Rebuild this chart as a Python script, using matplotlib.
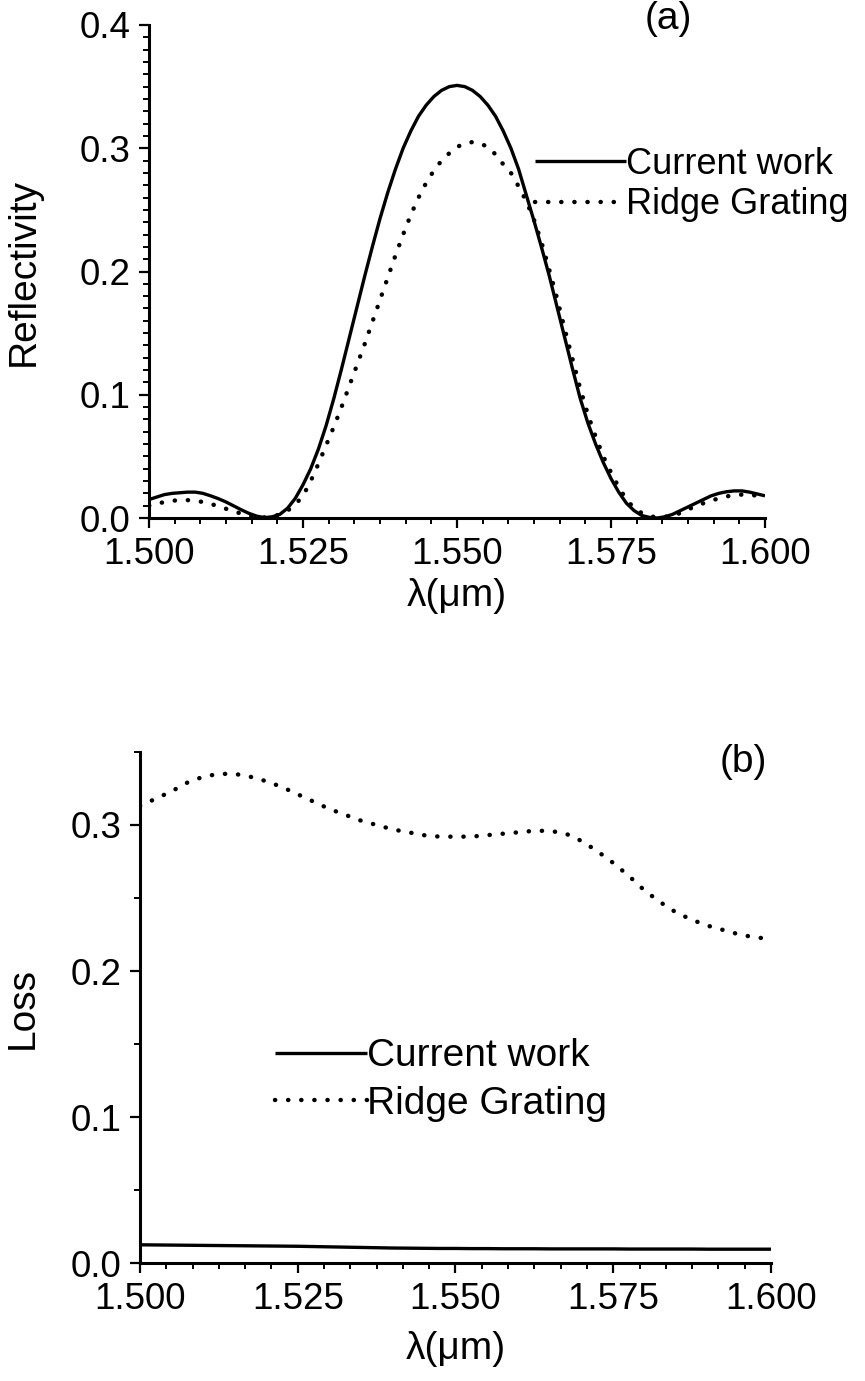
import matplotlib
matplotlib.use("Agg")
import matplotlib.pyplot as plt
from matplotlib.ticker import MultipleLocator, AutoMinorLocator, FormatStrFormatter

plt.rcParams["font.family"] = ["Liberation Sans", "DejaVu Sans"]

# (a) wavelength grid (um), read every 0.00125
wl_a = [
    1.50000, 1.50125, 1.50250, 1.50375, 1.50500, 1.50625, 1.50750, 1.50875, 1.51000, 1.51125,
    1.51250, 1.51375, 1.51500, 1.51625, 1.51750, 1.51875, 1.52000, 1.52125, 1.52250, 1.52375,
    1.52500, 1.52625, 1.52750, 1.52875, 1.53000, 1.53125, 1.53250, 1.53375, 1.53500, 1.53625,
    1.53750, 1.53875, 1.54000, 1.54125, 1.54250, 1.54375, 1.54500, 1.54625, 1.54750, 1.54875,
    1.55000, 1.55125, 1.55250, 1.55375, 1.55500, 1.55625, 1.55750, 1.55875, 1.56000, 1.56125,
    1.56250, 1.56375, 1.56500, 1.56625, 1.56750, 1.56875, 1.57000, 1.57125, 1.57250, 1.57375,
    1.57500, 1.57625, 1.57750, 1.57875, 1.58000, 1.58125, 1.58250, 1.58375, 1.58500, 1.58625,
    1.58750, 1.58875, 1.59000, 1.59125, 1.59250, 1.59375, 1.59500, 1.59625, 1.59750, 1.59875,
    1.60000,
]
refl_current = [
    0.015, 0.017, 0.019, 0.020, 0.0205, 0.021, 0.021, 0.020, 0.018, 0.0157,
    0.013, 0.0098, 0.0066, 0.0037, 0.0015, 0.0003, 0.001, 0.003, 0.008, 0.016,
    0.027, 0.040, 0.056, 0.075, 0.097, 0.121, 0.146, 0.171, 0.196, 0.220,
    0.243, 0.264, 0.283, 0.300, 0.314, 0.326, 0.335, 0.342, 0.347, 0.350,
    0.351, 0.350, 0.347, 0.342, 0.335, 0.326, 0.314, 0.300, 0.283, 0.262,
    0.241, 0.219, 0.196, 0.171, 0.146, 0.121, 0.097, 0.077, 0.060, 0.045,
    0.032, 0.021, 0.012, 0.006, 0.002, 0.0005, 0.000, 0.001, 0.003, 0.006,
    0.009, 0.012, 0.015, 0.018, 0.020, 0.0213, 0.022, 0.022, 0.021, 0.0195,
    0.018,
]
refl_ridge = [
    0.010, 0.0115, 0.013, 0.014, 0.0145, 0.0145, 0.014, 0.013, 0.0115, 0.0095,
    0.0075, 0.0055, 0.0035, 0.002, 0.001, 0.0005, 0.001, 0.003, 0.006, 0.011,
    0.018, 0.030, 0.044, 0.059, 0.074, 0.090, 0.107, 0.124, 0.141, 0.159,
    0.177, 0.195, 0.213, 0.230, 0.246, 0.260, 0.272, 0.282, 0.290, 0.296,
    0.301, 0.304, 0.305, 0.304, 0.301, 0.295, 0.287, 0.280, 0.269, 0.257,
    0.242, 0.223, 0.201, 0.178, 0.153, 0.129, 0.105, 0.084, 0.066, 0.050,
    0.037, 0.025, 0.015, 0.008, 0.004, 0.0015, 0.0005, 0.001, 0.002, 0.004,
    0.007, 0.0095, 0.012, 0.014, 0.016, 0.0175, 0.0185, 0.019, 0.019, 0.018,
    0.017,
]

# (b) wavelength grid (um), read every 0.0025
wl_b = [
    1.5000, 1.5025, 1.5050, 1.5075, 1.5100, 1.5125, 1.5150, 1.5175, 1.5200, 1.5225,
    1.5250, 1.5275, 1.5300, 1.5325, 1.5350, 1.5375, 1.5400, 1.5425, 1.5450, 1.5475,
    1.5500, 1.5525, 1.5550, 1.5575, 1.5600, 1.5625, 1.5650, 1.5675, 1.5700, 1.5725,
    1.5750, 1.5775, 1.5800, 1.5825, 1.5850, 1.5875, 1.5900, 1.5925, 1.5950, 1.5975,
    1.6000,
]
loss_ridge = [
    0.313, 0.318, 0.323, 0.329, 0.333, 0.335, 0.335, 0.333, 0.330, 0.326,
    0.321, 0.316, 0.311, 0.307, 0.303, 0.300, 0.297, 0.295, 0.293, 0.292,
    0.292, 0.292, 0.293, 0.294, 0.295, 0.296, 0.296, 0.294, 0.289, 0.282,
    0.274, 0.265, 0.255, 0.247, 0.240, 0.235, 0.231, 0.228, 0.225, 0.223,
    0.222,
]
loss_current = [
    0.0125, 0.0124, 0.0123, 0.0122, 0.0121, 0.0120, 0.0119, 0.0118, 0.0117, 0.0116,
    0.0115, 0.0113, 0.0111, 0.0109, 0.0107, 0.0105, 0.0103, 0.0102, 0.0101, 0.0100,
    0.0100, 0.0099, 0.0099, 0.0098, 0.0098, 0.0098, 0.0097, 0.0097, 0.0097, 0.0097,
    0.0097, 0.0096, 0.0096, 0.0096, 0.0096, 0.0096, 0.0095, 0.0095, 0.0095, 0.0095,
    0.0095,
]

labels = ["Current work", "Ridge Grating"]
x_ticks = [1.500, 1.525, 1.550, 1.575, 1.600]

SOLID = dict(color="black", lw=2.4, solid_capstyle="butt", solid_joinstyle="round")
DOTS = dict(color="black", lw=3.2, linestyle=(0, (0.05, 2.9)), dash_capstyle="round")


def style_axes(ax, ymax, ymajor, yminor):
    ax.set_xlim(1.5, 1.6)
    ax.set_ylim(0, ymax)
    ax.set_xticks(x_ticks)
    ax.xaxis.set_major_formatter(FormatStrFormatter("%.3f"))
    ax.xaxis.set_minor_locator(AutoMinorLocator(6))
    ax.yaxis.set_major_locator(MultipleLocator(ymajor))
    ax.yaxis.set_minor_locator(MultipleLocator(yminor))
    ax.yaxis.set_major_formatter(FormatStrFormatter("%.1f"))
    for side in ("top", "right"):
        ax.spines[side].set_visible(False)
    for side in ("left", "bottom"):
        ax.spines[side].set_linewidth(2.2)
    ax.tick_params(which="major", direction="out", length=7.5, width=1.6,
                   labelsize=26.5, pad=6)
    ax.tick_params(which="minor", direction="out", length=4.5, width=1.4)


fig = plt.figure(figsize=(8.65, 13.81), dpi=100)

# panel (a)
ax1 = fig.add_axes([0.1723, 0.6249, 0.7121, 0.3570])
ax1.plot(wl_a, refl_current, label=labels[0], **SOLID)
ax1.plot(wl_a, refl_ridge, label=labels[1], **DOTS)
style_axes(ax1, 0.4, 0.1, 0.01)
ax1.set_ylabel("Reflectivity", fontsize=28)
ax1.yaxis.set_label_coords(-0.174, 0.5)
ax1.set_xlabel("λ(μm)", fontsize=28)
ax1.xaxis.set_label_coords(0.5, -0.122)
ax1.text(0.843, 1.012, "(a)", transform=ax1.transAxes, fontsize=28,
         ha="center", va="center")
ax1.legend(loc="upper left", bbox_to_anchor=(0.627, 0.753), frameon=False,
           fontsize=26, handlelength=2.5, handletextpad=0.0, borderpad=0,
           borderaxespad=0, labelspacing=0.15)

# panel (b)
ax2 = fig.add_axes([0.1618, 0.0854, 0.7295, 0.3701])
ax2.plot(wl_b, loss_current, label=labels[0], **SOLID)
ax2.plot(wl_b, loss_ridge, label=labels[1], **DOTS)
style_axes(ax2, 0.35, 0.1, 0.05)
ax2.set_ylabel("Loss", fontsize=28)
ax2.yaxis.set_label_coords(-0.157, 0.5)
ax2.set_xlabel("λ(μm)", fontsize=28)
ax2.xaxis.set_label_coords(0.5, -0.133)
ax2.text(0.956, 0.98, "(b)", transform=ax2.transAxes, fontsize=28,
         ha="center", va="center")
ax2.legend(loc="upper left", bbox_to_anchor=(0.214, 0.440), frameon=False,
           fontsize=28, handlelength=2.36, handletextpad=0.0, borderpad=0,
           borderaxespad=0, labelspacing=0.30)

fig.savefig("out.png", dpi=100)
